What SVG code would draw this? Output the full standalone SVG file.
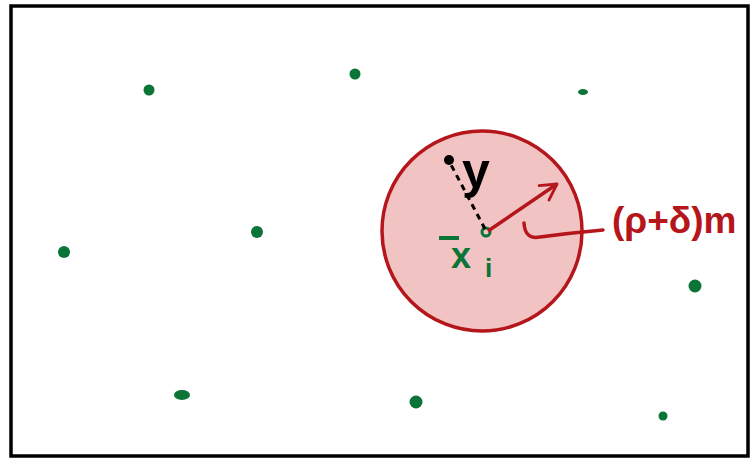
<svg xmlns="http://www.w3.org/2000/svg" width="751" height="459" viewBox="0 0 751 459">
<style>
.pt{fill:#0b7437}
.g{fill:#0b7437;font-family:"Liberation Sans",sans-serif;font-weight:bold}
.r{fill:#b5161b;font-family:"Liberation Sans",sans-serif;font-weight:bold}
</style>
<defs>
<marker id="ah" viewBox="0 0 12 12" refX="10" refY="6" markerWidth="6" markerHeight="6" orient="auto" markerUnits="strokeWidth">
<path d="M1,1 L10,6 L1,11" fill="none" stroke="#b5161b" stroke-width="1.6" stroke-linecap="round" stroke-linejoin="round"/>
</marker>
</defs>
<rect x="0" y="0" width="751" height="459" fill="#fff"/>
<rect x="11" y="6" width="737" height="450" fill="none" stroke="#000" stroke-width="3.5"/>
<g id="ball">
<circle cx="482" cy="231" r="100" fill="#f2c3c3" stroke="#b5161b" stroke-width="3.5"/>
</g>
<g id="points">
<circle class="pt" cx="149" cy="90" r="5.5"/>
<circle class="pt" cx="355" cy="74" r="5.5"/>
<ellipse class="pt" cx="583" cy="92" rx="5" ry="3"/>
<circle class="pt" cx="64" cy="252" r="6"/>
<circle class="pt" cx="257" cy="232" r="6"/>
<ellipse class="pt" cx="182" cy="395" rx="8" ry="5"/>
<circle class="pt" cx="416" cy="402" r="6.5"/>
<circle class="pt" cx="695" cy="286" r="6.5"/>
<circle class="pt" cx="663" cy="416" r="4.5"/>
</g>
<g id="center">
<circle cx="486" cy="232" r="4" fill="none" stroke="#0b7437" stroke-width="3"/>
<text class="g" x="451" y="268" font-size="36">x</text>
<rect x="439" y="236" width="20" height="4" fill="#0b7437"/>
<text class="g" x="485" y="277" font-size="26">i</text>
</g>
<g id="connectors">
<line x1="485" y1="229" x2="449" y2="161" stroke="#000" stroke-width="3" stroke-dasharray="6,5"/>
<circle cx="449" cy="160" r="5" fill="#000"/>
<line x1="488" y1="231" x2="557" y2="184" stroke="#b5161b" stroke-width="3.5" marker-end="url(#ah)"/>
<path d="M524,223 Q525,240 540,237 Q570,233 603,230" fill="none" stroke="#b5161b" stroke-width="3.5" stroke-linecap="round"/>
</g>
<g id="labels">
<text x="462" y="188" font-family="Liberation Sans,sans-serif" font-size="50" font-weight="bold" fill="#000">y</text>
<text class="r" x="612" y="233" font-size="37">(ρ+δ)m</text>
</g>
</svg>
